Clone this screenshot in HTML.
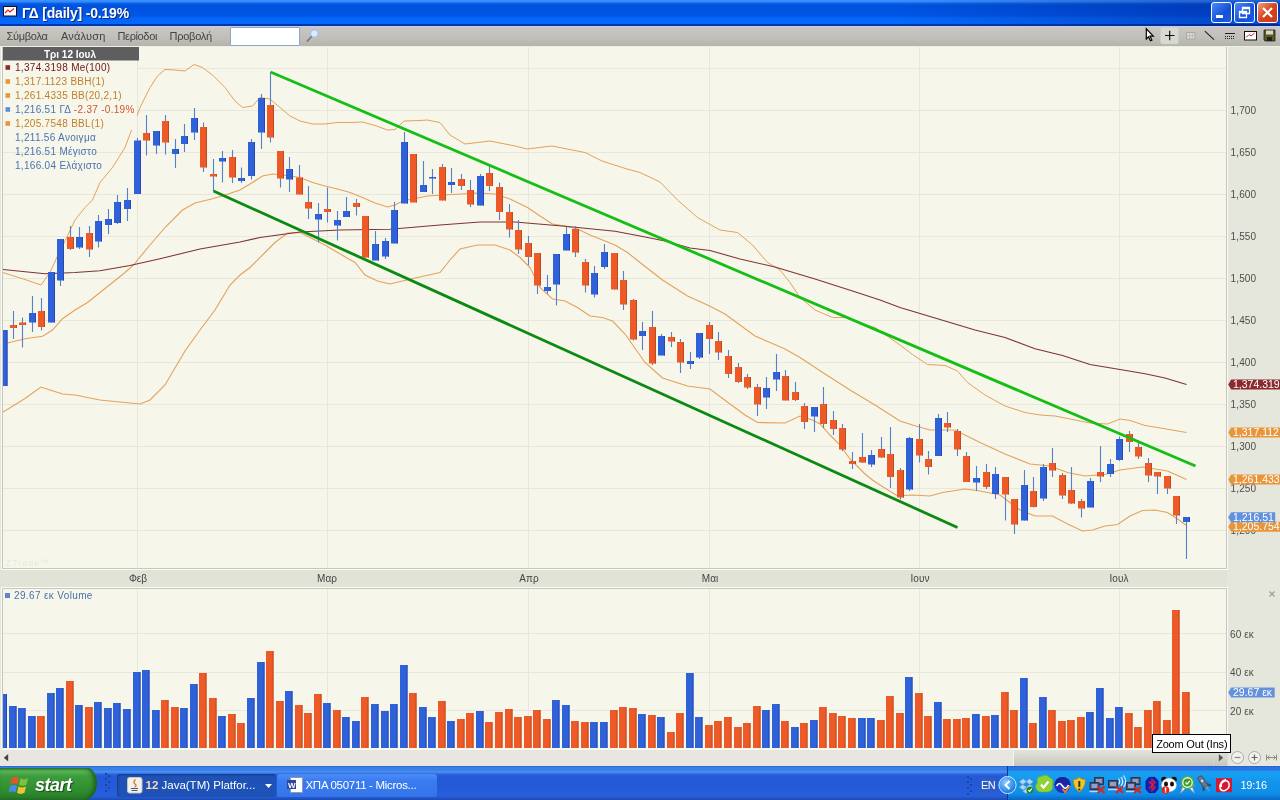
<!DOCTYPE html>
<html><head><meta charset="utf-8"><title>ΓΔ [daily] -0.19%</title>
<style>
html,body{margin:0;padding:0;width:1280px;height:800px;overflow:hidden;background:#e8e8de;font-family:"Liberation Sans",sans-serif}
#title{position:absolute;left:0;top:0;width:1280px;height:27px;background:linear-gradient(#3d95ff 0,#2f86f8 2px,#0a5fe8 3.500px,#0354df 5px,#0050da 7px,#0054e2 10px,#0056e6 16px,#0466f8 18px,#0468fa 23.500px,#0038ac 24.500px,#0038a8 26px,#c4ccec 26px,#c4ccec 27px)}
#title .t{position:absolute;left:22px;top:5px;color:#fff;font-weight:bold;font-size:14px;letter-spacing:-.2px;text-shadow:1px 1px 0 #0a2a80;white-space:nowrap}
#menu{position:absolute;left:0;top:27px;width:1280px;height:20px;background:linear-gradient(#cbc7c3 0,#c2c0bb 9px,#b5b5ad 18.800px,#efefe3 18.800px,#efefe3 20px);font-size:11px;color:#444}
#menu span{position:absolute;top:2.500px;white-space:nowrap}
#search{position:absolute;left:230px;top:26.500px;width:70px;height:19px;background:#fff;border:1px solid #8aa6c8;box-sizing:border-box;border-radius:1px}
.wb{position:absolute;top:2px;width:21px;height:21px;border:1px solid #fff;border-radius:3px;box-sizing:border-box;background:linear-gradient(135deg,#4a8af8,#1450d8 60%,#1c5ce4)}
#taskbar{position:absolute;left:0;top:766px;width:1280px;height:34px;background:linear-gradient(#2458c8 0,#3a7fe8 1px,#3a80e8 4px,#4a92f2 6px,#2e68e0 8px,#2458d6 10px,#2459d8 20px,#2860dc 30px,#1d4ab4 34px)}
#start{position:absolute;left:0;top:2px;width:97px;height:32px;border-radius:0 10px 13px 0/0 15px 17px 0;background:linear-gradient(#2f8a2f 0,#5cb85a 3px,#3d9c3c 8px,#2f8f2f 22px,#277a28 32px);box-shadow:inset -3px 0 4px #1e5e1e}
#start b{position:absolute;left:35px;top:6.5px;color:#fff;font-style:italic;font-size:18px;letter-spacing:-.5px;text-shadow:1px 1px 1px #1a4a1a}
.tb{position:absolute;top:8px;height:23px;border-radius:3px;color:#fff;font-size:11.5px;white-space:nowrap;box-sizing:border-box}
.tb span{position:absolute;top:4.500px}
#tray{position:absolute;left:1007px;top:0;width:273px;height:34px;background:linear-gradient(#2458c8 0,#2a72e0 1px,#2a74e2 4px,#1a9af0 5px,#18a0f2 8px,#1394ec 16px,#0f8ee8 28px,#0c66c4 34px);border-left:1px solid #0a3a90;box-sizing:border-box}
#root{position:absolute;left:0;top:0;width:1280px;height:800px;will-change:transform;transform:translateZ(0)}
</style></head><body><div id="root">
<div id="title">
<svg style="position:absolute;left:3px;top:6px" width="14" height="11" viewBox="0 0 14 11"><rect x=".5" y=".5" width="13" height="9.5" fill="#fff" stroke="#111"/><path d="M2 7l3-3 2 2 4-3.5" stroke="#d22" stroke-width="1.2" fill="none"/></svg>
<div style="position:absolute;left:900px;top:0;width:380px;height:26px;background:linear-gradient(90deg,rgba(0,20,120,0) 0,rgba(0,20,120,.32) 75%,rgba(0,20,120,.38) 100%)"></div>
<span class="t">ΓΔ [daily] -0.19%</span>
<div class="wb" style="left:1211px"><svg width="19" height="19"><rect x="4" y="12" width="7" height="3" fill="#fff"/></svg></div>
<div class="wb" style="left:1234px"><svg width="19" height="19"><path d="M7.5 4.500h7v6h-7zM7.5 5.500h7M4.500 8.500h7v6h-7zM4.500 9.500h7" fill="none" stroke="#fff" stroke-width="1.3"/></svg></div>
<div class="wb" style="left:1257px;background:linear-gradient(135deg,#f0a080,#d8431c 50%,#c83a18)"><svg width="19" height="19"><path d="M5 5l9 9M14 5l-9 9" stroke="#fff" stroke-width="2.2"/></svg></div>
</div>
<div id="menu">
<span style="left:6.500px;letter-spacing:-.28px">Σύμβολα</span><span style="left:61px;letter-spacing:.2px">Ανάλυση</span><span style="left:117.500px;letter-spacing:-.36px">Περίοδοι</span><span style="left:169.500px;letter-spacing:-.24px">Προβολή</span>
</div>
<div id="search"></div>
<svg style="position:absolute;left:303px;top:27px" width="20" height="18"><circle cx="11.300" cy="6.500" r="3.800" fill="#dcebfa" stroke="#a8c2e6" stroke-width="1.400"/><path d="M8.300 9.800l-4 4.400" stroke="#777" stroke-width="1.600" stroke-linecap="round"/></svg>
<svg style="position:absolute;left:1140px;top:26px" width="140" height="21">
<rect x="20.500" y="1.500" width="18" height="16.500" rx="2" fill="#d9d9d3" stroke="#cdcdc6" stroke-width=".6"/>
<path d="M6.300 2.800v10.200l2.300-2.200 1.800 4 1.500-.7-1.800-3.900h3.200z" fill="#fff" stroke="#000" stroke-width="1.200"/>
<path d="M25 9.500h9.500M29.700 4.800v9.500" stroke="#111" stroke-width="1.200"/>
<rect x="46.500" y="6.500" width="8.500" height="6.500" fill="#dcdcda" stroke="#a8a8a4"/><path d="M49.500 7v6M52.300 7v6M47 9.800h8" stroke="#b4b4b0" stroke-width=".8"/>
<path d="M64.800 5.200l9.200 8.500" stroke="#222" stroke-width="1.100"/>
<path d="M85 10.500h10M85 12.500h10" stroke="#222" stroke-width="1" stroke-dasharray="1 1"/><path d="M85 7.500h10" stroke="#222" stroke-width="1"/>
<rect x="104.500" y="5.500" width="12" height="8.500" fill="#fff" stroke="#111"/><path d="M106 11.500l3-3 2 1.500 3.500-3" stroke="#c22" fill="none"/>
<path d="M124 4h11v11h-10l-1-1z" fill="#5c5a1e" stroke="#222" stroke-width=".8"/><rect x="126" y="4.500" width="7" height="4" fill="#d8d8c8"/><rect x="127" y="11" width="5" height="4" fill="#222"/>
</svg>
<svg id="chart" width="1280" height="719" viewBox="0 47 1280 719" style="position:absolute;left:0;top:47px" font-family="Liberation Sans, sans-serif" font-size="10">
<rect x="0" y="47" width="1280" height="719" fill="#e6e7dc"/>
<rect x="0" y="569" width="1227" height="19" fill="#e2e3d7"/>
<rect x="2" y="47" width="1224" height="521" fill="#f6f6eb"/>
<rect x="2" y="588" width="1224" height="161" fill="#f6f6eb"/>
<path d="M1.5 47V569.5H1227.500V47M1.500 749V587.500H1227.500V749" fill="none" stroke="#fbfbf6" stroke-width="1"/>
<path d="M2.5 47V568.5H1226.5V47" fill="none" stroke="#c6c6bc" stroke-width="1"/>
<path d="M2.5 748.5V588.5H1226.5V748.5" fill="none" stroke="#c6c6bc" stroke-width="1"/>
<path d="M3 68.5H1226 M3 110.5H1226 M3 152.5H1226 M3 194.5H1226 M3 236.5H1226 M3 278.5H1226 M3 320.5H1226 M3 362.5H1226 M3 404.5H1226 M3 446.5H1226 M3 488.5H1226 M3 530.5H1226 M137.5 47V568 M137.5 589V748 M327.5 47V568 M327.5 589V748 M528.5 47V568 M528.5 589V748 M709.5 47V568 M709.5 589V748 M919.5 47V568 M919.5 589V748 M1119.5 47V568 M1119.5 589V748 M3 633.5H1226 M3 672.5H1226 M3 710.5H1226" stroke="#e7e7db" stroke-width="1" fill="none"/>
<clipPath id="cp"><rect x="3" y="47" width="1223" height="521"/></clipPath><clipPath id="cv"><rect x="3" y="589" width="1224" height="159"/></clipPath>
<g clip-path="url(#cp)">
<polyline points="2.5,272.5 25,279.5 41,285 50,272.5 57.5,256 65.5,240 75,220 85,207.5 92.5,200 100,182.5 112.5,167.5 125,147.5 132.5,127.5 140,107.5 150,87.5 157.5,76 165,69.5 175,70 185,71 194,64.5 202.5,67.5 212.5,75 225,87.5 235,101 242.5,107.5 252.5,106 260,97.5 270,99 280,107.5 290,116 300,121 312.5,124 325,124 337.5,122.5 350,122.5 362.5,122 375,125.5 387.5,130 395,129.5 404,121 420,120.5 427,120 440,122.5 450,135 465,144 490,141 515,146 527,149 552,146 585,152.5 602,161 627,169 640,172.5 660,182 677.5,200 697.5,217.5 720,230 737.5,232.5 752.5,245 767.5,262.5 780,270 790,282.5 800,297.5 815,310 832.5,317.5 845,317.5 865,325 875,327.5 900,345 912.5,354.5 927.5,364.5 945,365.5 957.5,371 967.5,382.5 985,395 1005,406 1025,412.5 1040,415 1055,416 1075,420 1090,423 1107.5,424 1120,419 1130,420.5 1145,425.5 1165,428.75 1186.5,432.5" fill="none" stroke="#e4a25a" stroke-width="1"/>
<polyline points="2.5,344 7.5,343 25,338.75 42.5,336.25 52.5,330 62.5,318.75 75,310 87.5,302.5 100,292.5 112.5,282.5 125,272.5 135,263.75 137.5,260 150,245 165,227.5 182.5,210 195,203 212.5,198.75 225,195 240,190 252.5,182.5 262.5,176 272.5,174 282.5,175 300,177.5 312.5,182.5 325,186 337.5,189 350,192.5 362.5,197.5 375,203 387.5,207 395,205 402.5,201 427.5,196 452.5,194.5 477.5,193 495,194 510,199 527.5,207.5 540,216 552.5,224 565,226 577.5,229 590,235 615,245 627.5,252.5 640,262.5 662.5,280 687.5,296 707.5,305 725,314 740,325 755,336 770,342.5 785,349 800,357.5 825,374 850,390 875,405 900,421 912.5,425 930,430 955,430 980,442.5 1005,454 1030,464 1050,466 1067.5,472.5 1085,476 1105,474.5 1120,470 1142.5,467 1155,469 1167.5,471 1186.5,479.5" fill="none" stroke="#e4a25a" stroke-width="1.1"/>
<polyline points="2.5,412.5 25,398.5 41,387 50,390 62.5,394 75,395 100,400 125,402.5 140,404 150,400 165,385 185,351 200,330 215,310 230,285 240,275 250,267.5 265,252.5 275,242.5 287.5,233 300,232.5 325,245 337.5,252.5 355,262.5 365,275 377.5,281 390,284 402.5,281 415,278 440,272.5 450,260 460,249 477.5,245 495,245 510,250 520,257.5 530,267.5 540,287.5 552.5,299 565,301 577.5,307.5 590,316 602.5,317.5 612.5,321 625,334 645,362.5 662.5,378 687.5,386 710,389 730,404 745,415 757.5,422.5 785,423 800,416 812.5,420 820,424 830,435 840,445 850,459 865,474 872.5,480 880,485 897.5,496 912.5,495 930,496 942.5,492.5 965,489 980,491 1000,495 1010,502.5 1020,510 1035,516 1052.5,516 1067.5,524 1082.5,531 1092.5,530 1105,526 1117.5,524.5 1130,516 1142.5,510.5 1155,510 1167.5,512.5 1177.5,519 1186.5,525.5" fill="none" stroke="#e4a25a" stroke-width="1.1"/>
<polyline points="2.5,269.5 45,273.75 75,272.5 100,270.75 130,265.5 160,258.75 200,249 240,242 260,237.5 300,232 340,230 390,229.25 440,225 480,222 515,222 565,226.25 615,231.25 640,236 665,241 690,248 710,250.5 740,259 775,267 815,279 852.5,291 880,300 900,307.5 925,315 950,322.5 975,330 1005,337.5 1035,348.75 1062.5,355.5 1090,364.5 1120,369.5 1145,373.75 1165,378 1186.5,384.5" fill="none" stroke="#7c3434" stroke-width="1.05"/>
<path d="M4 330V386 M13.5 311V339 M22.5 317.5V347.5 M32.5 296V332 M41.5 298V330.5 M51.5 272V322.5 M60.5 239V286 M70.5 226V250 M79.5 227V249 M89.5 226V257 M98.5 215V247.5 M108.5 209V234 M117.5 195V224 M127.5 188V221 M137.5 138V194 M146.5 115V155.5 M156.5 131V154 M165.5 115V154.5 M175.5 139V168 M184.5 124V152 M194.5 108V140 M203.5 122.5V172 M213.5 159V191 M222.5 151V182.5 M232.5 150V183 M241.5 167.5V183 M251.5 139V179.5 M261.5 94V149 M270.5 72V142.5 M280.5 151V187.5 M289.5 157V192 M299.5 165V194.5 M308.5 186V219 M318.5 203V242.5 M327.5 187.5V222.5 M337.5 211V240.5 M346.5 197V217 M356.5 199V215.5 M365.5 216V257.5 M375.5 231V260.5 M385.5 238V259 M394.5 202V243.5 M404.5 132V203.5 M413.5 154V202.5 M423.5 161V192 M432.5 169V194 M442.5 164V200.5 M451.5 168V193 M461.5 174V190 M470.5 180V207 M480.5 174V205.5 M489.5 166V191 M499.5 182.5V220 M509.5 204V237.5 M518.5 220V254 M528.5 236V265 M537.5 253V294 M547.5 275V294 M556.5 254V305.5 M566.5 227V250.5 M575.5 226V257 M585.5 259V292.5 M594.5 266V297.5 M604.5 244V269 M614.5 253V289.5 M623.5 271V310 M633.5 299V340.5 M642.5 322V350 M652.5 311V365 M661.5 334V355.5 M671.5 332V347 M680.5 339V373 M690.5 352V369 M699.5 333V359 M709.5 322V354 M718.5 332V360 M728.5 350V378 M738.5 363V383 M747.5 374V389 M757.5 384V416 M766.5 377V409 M776.5 354V391 M785.5 370V400.5 M795.5 382V401 M804.5 403V429 M814.5 407V432 M823.5 387V428 M833.5 411V435 M842.5 424V451 M852.5 452V469 M862.5 433V463 M871.5 450V467 M881.5 437V458 M890.5 427V488 M900.5 468V499.5 M909.5 437V491 M919.5 424V462.5 M928.5 451V474.5 M938.5 414V456 M947.5 412V432 M957.5 429V456 M966.5 452V482 M976.5 466V491 M986.5 464V489 M995.5 467V499 M1005.5 477V520.5 M1014.5 499V534 M1024.5 470V520.5 M1033.5 477V507.5 M1043.5 464V501 M1052.5 448V477 M1062.5 473V499 M1071.5 467V504 M1081.5 499V517.5 M1090.5 478V507.5 M1100.5 446V482 M1110.5 459V477 M1119.5 436.5V461 M1129.5 431V452 M1138.5 442V459 M1148.5 458V482 M1157.5 472V494 M1167.5 476V494 M1176.5 496V524 M1186.5 517V559" stroke="#5580ca" stroke-width="1.1" fill="none"/>
<path d="M0.5 330h7v56h-7z M29 313h7v9.5h-7z M48 272h7v50.5h-7z M57 239h7v41.5h-7z M76 237h7v10.5h-7z M95 221h7v20.5h-7z M105 219h7v6h-7z M114 202h7v21h-7z M124 200h7v9h-7z M134 140.5h7v53.5h-7z M153 131h7v14.5h-7z M172 149h7v5h-7z M181 136h7v8h-7z M191 118h7v14.5h-7z M219 158h7v3.5h-7z M238 178h7v3h-7z M248 142h7v34h-7z M258 98h7v34.5h-7z M286 169h7v10.5h-7z M315 214h7v5.5h-7z M334 220h7v5.5h-7z M343 211h7v6h-7z M372 244h7v16.5h-7z M382 241h7v15.5h-7z M391 210h7v33.5h-7z M401 142h7v61.5h-7z M420 185h7v7h-7z M429 177h7v1.5h-7z M448 182h7v3h-7z M477 176h7v29.5h-7z M544 287h7v4h-7z M553 254h7v30.5h-7z M563 234h7v16.5h-7z M591 273h7v21.5h-7z M601 252h7v15h-7z M639 331h7v5h-7z M658 336h7v19.5h-7z M687 361h7v3h-7z M696 333h7v24.5h-7z M763 388h7v9.5h-7z M773 372h7v7.5h-7z M811 407h7v9.5h-7z M868 455h7v9.5h-7z M906 438h7v51.5h-7z M935 418h7v38h-7z M973 478h7v4.5h-7z M992 474h7v20h-7z M1021 485h7v35.5h-7z M1040 467h7v31.5h-7z M1087 481h7v26.5h-7z M1107 464h7v10h-7z M1116 439h7v21h-7z M1183 517h7v5h-7z" fill="#2f62d8"/>
<path d="M6.5 330h1v56h-1z M35 313h1v9.5h-1z M54 272h1v50.5h-1z M63 239h1v41.5h-1z M82 237h1v10.5h-1z M101 221h1v20.5h-1z M111 219h1v6h-1z M120 202h1v21h-1z M130 200h1v9h-1z M140 140.5h1v53.5h-1z M159 131h1v14.5h-1z M178 149h1v5h-1z M187 136h1v8h-1z M197 118h1v14.5h-1z M225 158h1v3.5h-1z M244 178h1v3h-1z M254 142h1v34h-1z M264 98h1v34.5h-1z M292 169h1v10.5h-1z M321 214h1v5.5h-1z M340 220h1v5.5h-1z M349 211h1v6h-1z M378 244h1v16.5h-1z M388 241h1v15.5h-1z M397 210h1v33.5h-1z M407 142h1v61.5h-1z M426 185h1v7h-1z M435 177h1v1.5h-1z M454 182h1v3h-1z M483 176h1v29.5h-1z M550 287h1v4h-1z M559 254h1v30.5h-1z M569 234h1v16.5h-1z M597 273h1v21.5h-1z M607 252h1v15h-1z M645 331h1v5h-1z M664 336h1v19.5h-1z M693 361h1v3h-1z M702 333h1v24.5h-1z M769 388h1v9.5h-1z M779 372h1v7.5h-1z M817 407h1v9.5h-1z M874 455h1v9.5h-1z M912 438h1v51.5h-1z M941 418h1v38h-1z M979 478h1v4.5h-1z M998 474h1v20h-1z M1027 485h1v35.5h-1z M1046 467h1v31.5h-1z M1093 481h1v26.5h-1z M1113 464h1v10h-1z M1122 439h1v21h-1z M1189 517h1v5h-1z" fill="#2549b4"/>
<path d="M10 325h7v3h-7z M19 322.5h7v2.5h-7z M38 311h7v16h-7z M67 237h7v12h-7z M86 233h7v16.5h-7z M143 133h7v7.5h-7z M162 121h7v21.5h-7z M200 127h7v40.5h-7z M210 174h7v2.5h-7z M229 157h7v20.5h-7z M267 105h7v32.5h-7z M277 151h7v27.5h-7z M296 177.5h7v17h-7z M305 202h7v6.5h-7z M324 209h7v3h-7z M353 203h7v4h-7z M362 216h7v41.5h-7z M410 154h7v48.5h-7z M439 167h7v33.5h-7z M458 179h7v7h-7z M467 190h7v14.5h-7z M486 173h7v13h-7z M496 187h7v25h-7z M506 212h7v17.5h-7z M515 230h7v19.5h-7z M525 243h7v14h-7z M534 253h7v32.5h-7z M572 229h7v23.5h-7z M582 262h7v23.5h-7z M611 253h7v36.5h-7z M620 280h7v24.5h-7z M630 300h7v39.5h-7z M649 327h7v36.5h-7z M668 337h7v4.5h-7z M677 342h7v20.5h-7z M706 325h7v14h-7z M715 341h7v11.5h-7z M725 356h7v18h-7z M735 367h7v15h-7z M744 377h7v10.5h-7z M754 387h7v17.5h-7z M782 376h7v24.5h-7z M792 392h7v8h-7z M801 406h7v16h-7z M820 404h7v20h-7z M830 420h7v9h-7z M839 428h7v21.5h-7z M849 461h7v3h-7z M859 457h7v5.5h-7z M878 449h7v8.5h-7z M887 454h7v23h-7z M897 470h7v27.5h-7z M916 439h7v16.5h-7z M925 459h7v8h-7z M944 423h7v4.5h-7z M954 431h7v18.5h-7z M963 456h7v26h-7z M983 472h7v15h-7z M1002 477h7v17.5h-7z M1011 499h7v25.5h-7z M1030 491h7v16h-7z M1049 463h7v7.5h-7z M1059 475h7v20.5h-7z M1068 490h7v13.5h-7z M1078 501h7v7.5h-7z M1097 472h7v4.5h-7z M1126 434h7v8h-7z M1135 447h7v9.5h-7z M1145 463h7v12.5h-7z M1154 472h7v4.5h-7z M1164 476h7v12.5h-7z M1173 496h7v19.5h-7z" fill="#ee5a27"/>
<path d="M16 325h1v3h-1z M25 322.5h1v2.5h-1z M44 311h1v16h-1z M73 237h1v12h-1z M92 233h1v16.5h-1z M149 133h1v7.5h-1z M168 121h1v21.5h-1z M206 127h1v40.5h-1z M216 174h1v2.5h-1z M235 157h1v20.5h-1z M273 105h1v32.5h-1z M283 151h1v27.5h-1z M302 177.5h1v17h-1z M311 202h1v6.5h-1z M330 209h1v3h-1z M359 203h1v4h-1z M368 216h1v41.5h-1z M416 154h1v48.5h-1z M445 167h1v33.5h-1z M464 179h1v7h-1z M473 190h1v14.5h-1z M492 173h1v13h-1z M502 187h1v25h-1z M512 212h1v17.5h-1z M521 230h1v19.5h-1z M531 243h1v14h-1z M540 253h1v32.5h-1z M578 229h1v23.5h-1z M588 262h1v23.5h-1z M617 253h1v36.5h-1z M626 280h1v24.5h-1z M636 300h1v39.5h-1z M655 327h1v36.5h-1z M674 337h1v4.5h-1z M683 342h1v20.5h-1z M712 325h1v14h-1z M721 341h1v11.5h-1z M731 356h1v18h-1z M741 367h1v15h-1z M750 377h1v10.5h-1z M760 387h1v17.5h-1z M788 376h1v24.5h-1z M798 392h1v8h-1z M807 406h1v16h-1z M826 404h1v20h-1z M836 420h1v9h-1z M845 428h1v21.5h-1z M855 461h1v3h-1z M865 457h1v5.5h-1z M884 449h1v8.5h-1z M893 454h1v23h-1z M903 470h1v27.5h-1z M922 439h1v16.5h-1z M931 459h1v8h-1z M950 423h1v4.5h-1z M960 431h1v18.5h-1z M969 456h1v26h-1z M989 472h1v15h-1z M1008 477h1v17.5h-1z M1017 499h1v25.5h-1z M1036 491h1v16h-1z M1055 463h1v7.5h-1z M1065 475h1v20.5h-1z M1074 490h1v13.5h-1z M1084 501h1v7.5h-1z M1103 472h1v4.5h-1z M1132 434h1v8h-1z M1141 447h1v9.5h-1z M1151 463h1v12.5h-1z M1160 472h1v4.5h-1z M1170 476h1v12.5h-1z M1179 496h1v19.5h-1z" fill="#bd4a20"/>
<line x1="213.5" y1="191" x2="957.5" y2="527.5" stroke="#0b8a12" stroke-width="2.8"/>
<line x1="270.5" y1="72" x2="1195.5" y2="466" stroke="#14be14" stroke-width="2.8"/>
</g>
<g clip-path="url(#cv)">
<path d="M-0.5 694h7.5V748h-7.5z M9 706h7.5V748h-7.5z M18 708h7.5V748h-7.5z M28 716h7.5V748h-7.5z M47 693h7.5V748h-7.5z M56 688h7.5V748h-7.5z M75 705h7.5V748h-7.5z M94 702h7.5V748h-7.5z M104 708h7.5V748h-7.5z M113 703h7.5V748h-7.5z M123 709h7.5V748h-7.5z M133 672h7.5V748h-7.5z M142 670h7.5V748h-7.5z M152 710h7.5V748h-7.5z M180 708h7.5V748h-7.5z M190 684h7.5V748h-7.5z M218 716h7.5V748h-7.5z M247 698h7.5V748h-7.5z M257 662h7.5V748h-7.5z M285 691h7.5V748h-7.5z M323 703h7.5V748h-7.5z M342 717h7.5V748h-7.5z M352 721h7.5V748h-7.5z M371 704h7.5V748h-7.5z M381 711h7.5V748h-7.5z M390 704h7.5V748h-7.5z M400 665h7.5V748h-7.5z M419 707h7.5V748h-7.5z M428 717h7.5V748h-7.5z M447 721h7.5V748h-7.5z M476 711h7.5V748h-7.5z M552 700h7.5V748h-7.5z M562 705h7.5V748h-7.5z M590 722h7.5V748h-7.5z M600 722h7.5V748h-7.5z M638 714h7.5V748h-7.5z M657 717h7.5V748h-7.5z M686 673h7.5V748h-7.5z M695 717h7.5V748h-7.5z M762 710h7.5V748h-7.5z M772 704h7.5V748h-7.5z M791 727h7.5V748h-7.5z M810 720h7.5V748h-7.5z M858 718h7.5V748h-7.5z M867 718h7.5V748h-7.5z M905 677h7.5V748h-7.5z M934 702h7.5V748h-7.5z M972 714h7.5V748h-7.5z M991 715h7.5V748h-7.5z M1020 678h7.5V748h-7.5z M1039 697h7.5V748h-7.5z M1086 712h7.5V748h-7.5z M1096 688h7.5V748h-7.5z M1106 718h7.5V748h-7.5z M1115 707h7.5V748h-7.5z" fill="#2f62d8"/>
<path d="M6 694h1V748h-1z M15.5 706h1V748h-1z M24.5 708h1V748h-1z M34.5 716h1V748h-1z M53.5 693h1V748h-1z M62.5 688h1V748h-1z M81.5 705h1V748h-1z M100.5 702h1V748h-1z M110.5 708h1V748h-1z M119.5 703h1V748h-1z M129.5 709h1V748h-1z M139.5 672h1V748h-1z M148.5 670h1V748h-1z M158.5 710h1V748h-1z M186.5 708h1V748h-1z M196.5 684h1V748h-1z M224.5 716h1V748h-1z M253.5 698h1V748h-1z M263.5 662h1V748h-1z M291.5 691h1V748h-1z M329.5 703h1V748h-1z M348.5 717h1V748h-1z M358.5 721h1V748h-1z M377.5 704h1V748h-1z M387.5 711h1V748h-1z M396.5 704h1V748h-1z M406.5 665h1V748h-1z M425.5 707h1V748h-1z M434.5 717h1V748h-1z M453.5 721h1V748h-1z M482.5 711h1V748h-1z M558.5 700h1V748h-1z M568.5 705h1V748h-1z M596.5 722h1V748h-1z M606.5 722h1V748h-1z M644.5 714h1V748h-1z M663.5 717h1V748h-1z M692.5 673h1V748h-1z M701.5 717h1V748h-1z M768.5 710h1V748h-1z M778.5 704h1V748h-1z M797.5 727h1V748h-1z M816.5 720h1V748h-1z M864.5 718h1V748h-1z M873.5 718h1V748h-1z M911.5 677h1V748h-1z M940.5 702h1V748h-1z M978.5 714h1V748h-1z M997.5 715h1V748h-1z M1026.5 678h1V748h-1z M1045.5 697h1V748h-1z M1092.5 712h1V748h-1z M1102.5 688h1V748h-1z M1112.5 718h1V748h-1z M1121.5 707h1V748h-1z" fill="#2549b4"/>
<path d="M37 716h7.5V748h-7.5z M66 681h7.5V748h-7.5z M85 707h7.5V748h-7.5z M161 700h7.5V748h-7.5z M171 707h7.5V748h-7.5z M199 673h7.5V748h-7.5z M209 698h7.5V748h-7.5z M228 714h7.5V748h-7.5z M237 723h7.5V748h-7.5z M266 651h7.5V748h-7.5z M276 701h7.5V748h-7.5z M295 705h7.5V748h-7.5z M304 713h7.5V748h-7.5z M314 694h7.5V748h-7.5z M333 710h7.5V748h-7.5z M361 697h7.5V748h-7.5z M409 693h7.5V748h-7.5z M438 701h7.5V748h-7.5z M457 719h7.5V748h-7.5z M466 713h7.5V748h-7.5z M485 722h7.5V748h-7.5z M495 712h7.5V748h-7.5z M505 709h7.5V748h-7.5z M514 717h7.5V748h-7.5z M524 716h7.5V748h-7.5z M533 710h7.5V748h-7.5z M543 719h7.5V748h-7.5z M571 721h7.5V748h-7.5z M581 722h7.5V748h-7.5z M610 710h7.5V748h-7.5z M619 707h7.5V748h-7.5z M629 708h7.5V748h-7.5z M648 715h7.5V748h-7.5z M667 732h7.5V748h-7.5z M676 713h7.5V748h-7.5z M705 725h7.5V748h-7.5z M714 721h7.5V748h-7.5z M724 717h7.5V748h-7.5z M734 727h7.5V748h-7.5z M743 723h7.5V748h-7.5z M753 706h7.5V748h-7.5z M781 721h7.5V748h-7.5z M800 723h7.5V748h-7.5z M819 707h7.5V748h-7.5z M829 713h7.5V748h-7.5z M838 716h7.5V748h-7.5z M848 718h7.5V748h-7.5z M877 720h7.5V748h-7.5z M886 696h7.5V748h-7.5z M896 713h7.5V748h-7.5z M915 693h7.5V748h-7.5z M924 716h7.5V748h-7.5z M943 719h7.5V748h-7.5z M953 719h7.5V748h-7.5z M962 718h7.5V748h-7.5z M982 716h7.5V748h-7.5z M1001 692h7.5V748h-7.5z M1010 710h7.5V748h-7.5z M1029 723h7.5V748h-7.5z M1048 710h7.5V748h-7.5z M1058 721h7.5V748h-7.5z M1067 720h7.5V748h-7.5z M1077 717h7.5V748h-7.5z M1125 713h7.5V748h-7.5z M1134 727h7.5V748h-7.5z M1144 710h7.5V748h-7.5z M1153 701h7.5V748h-7.5z M1163 720h7.5V748h-7.5z M1172 610h7.5V748h-7.5z M1182 692h7.5V748h-7.5z" fill="#ee5a27"/>
<path d="M43.5 716h1V748h-1z M72.5 681h1V748h-1z M91.5 707h1V748h-1z M167.5 700h1V748h-1z M177.5 707h1V748h-1z M205.5 673h1V748h-1z M215.5 698h1V748h-1z M234.5 714h1V748h-1z M243.5 723h1V748h-1z M272.5 651h1V748h-1z M282.5 701h1V748h-1z M301.5 705h1V748h-1z M310.5 713h1V748h-1z M320.5 694h1V748h-1z M339.5 710h1V748h-1z M367.5 697h1V748h-1z M415.5 693h1V748h-1z M444.5 701h1V748h-1z M463.5 719h1V748h-1z M472.5 713h1V748h-1z M491.5 722h1V748h-1z M501.5 712h1V748h-1z M511.5 709h1V748h-1z M520.5 717h1V748h-1z M530.5 716h1V748h-1z M539.5 710h1V748h-1z M549.5 719h1V748h-1z M577.5 721h1V748h-1z M587.5 722h1V748h-1z M616.5 710h1V748h-1z M625.5 707h1V748h-1z M635.5 708h1V748h-1z M654.5 715h1V748h-1z M673.5 732h1V748h-1z M682.5 713h1V748h-1z M711.5 725h1V748h-1z M720.5 721h1V748h-1z M730.5 717h1V748h-1z M740.5 727h1V748h-1z M749.5 723h1V748h-1z M759.5 706h1V748h-1z M787.5 721h1V748h-1z M806.5 723h1V748h-1z M825.5 707h1V748h-1z M835.5 713h1V748h-1z M844.5 716h1V748h-1z M854.5 718h1V748h-1z M883.5 720h1V748h-1z M892.5 696h1V748h-1z M902.5 713h1V748h-1z M921.5 693h1V748h-1z M930.5 716h1V748h-1z M949.5 719h1V748h-1z M959.5 719h1V748h-1z M968.5 718h1V748h-1z M988.5 716h1V748h-1z M1007.5 692h1V748h-1z M1016.5 710h1V748h-1z M1035.5 723h1V748h-1z M1054.5 710h1V748h-1z M1064.5 721h1V748h-1z M1073.5 720h1V748h-1z M1083.5 717h1V748h-1z M1131.5 713h1V748h-1z M1140.5 727h1V748h-1z M1150.5 710h1V748h-1z M1159.5 701h1V748h-1z M1169.5 720h1V748h-1z M1178.5 610h1V748h-1z M1188.5 692h1V748h-1z" fill="#bd4a20"/>
</g>
<text x="5.5" y="566" font-size="9" fill="#e7e7db" letter-spacing="1">ZTrade™</text>
<text x="138" y="582" text-anchor="middle" fill="#444" font-size="10">Φεβ</text>
<text x="327" y="582" text-anchor="middle" fill="#444" font-size="10">Μαρ</text>
<text x="529" y="582" text-anchor="middle" fill="#444" font-size="10">Απρ</text>
<text x="710" y="582" text-anchor="middle" fill="#444" font-size="10">Μαι</text>
<text x="920" y="582" text-anchor="middle" fill="#444" font-size="10">Ιουν</text>
<text x="1119" y="582" text-anchor="middle" fill="#444" font-size="10">Ιουλ</text>
<text x="1230.6" y="113.8" fill="#4c4c4c" font-size="10" letter-spacing=".1">1,700</text>
<text x="1230.6" y="155.8" fill="#4c4c4c" font-size="10" letter-spacing=".1">1,650</text>
<text x="1230.6" y="197.8" fill="#4c4c4c" font-size="10" letter-spacing=".1">1,600</text>
<text x="1230.6" y="239.8" fill="#4c4c4c" font-size="10" letter-spacing=".1">1,550</text>
<text x="1230.6" y="281.8" fill="#4c4c4c" font-size="10" letter-spacing=".1">1,500</text>
<text x="1230.6" y="323.8" fill="#4c4c4c" font-size="10" letter-spacing=".1">1,450</text>
<text x="1230.6" y="365.8" fill="#4c4c4c" font-size="10" letter-spacing=".1">1,400</text>
<text x="1230.6" y="407.8" fill="#4c4c4c" font-size="10" letter-spacing=".1">1,350</text>
<text x="1230.6" y="449.8" fill="#4c4c4c" font-size="10" letter-spacing=".1">1,300</text>
<text x="1230.6" y="491.8" fill="#4c4c4c" font-size="10" letter-spacing=".1">1,250</text>
<text x="1230.6" y="533.8" fill="#4c4c4c" font-size="10" letter-spacing=".1">1,200</text>
<text x="1230" y="637.8" fill="#4c4c4c" font-size="10" letter-spacing=".1">60 εκ</text>
<text x="1230" y="675.8" fill="#4c4c4c" font-size="10" letter-spacing=".1">40 εκ</text>
<text x="1230" y="714.8" fill="#4c4c4c" font-size="10" letter-spacing=".1">20 εκ</text>
<path d="M1228.2 384.5l3 -5h52v10h-52z" fill="#8a2a2e"/>
<text x="1233" y="388.1" fill="#fff" font-size="10.5">1,374.319</text>
<path d="M1228.2 432.5l3 -5h52v10h-52z" fill="#e8963c"/>
<text x="1233" y="436.1" fill="#fff" font-size="10.5">1,317.112</text>
<path d="M1228.2 479.5l3 -5h52v10h-52z" fill="#e8963c"/>
<text x="1233" y="483.1" fill="#fff" font-size="10.5">1,261.433</text>
<path d="M1228.2 526.8l3 -5h52v10h-52z" fill="#e8963c"/>
<text x="1233" y="530.4" fill="#fff" font-size="10.5">1,205.754</text>
<path d="M1228.2 517.2l3 -5h44v10h-44z" fill="#6391de"/>
<text x="1233" y="520.8000000000001" fill="#fff" font-size="10.5">1,216.51</text>
<path d="M1228.2 692.5l3 -5h43.5v10h-43.5z" fill="#6391de"/>
<text x="1233" y="696.1" fill="#fff" font-size="10.5">29.67 εκ</text>
<rect x="5" y="593" width="5" height="5" fill="#5f86cc"/>
<text x="14" y="599" fill="#4a6fa8" font-size="10" letter-spacing="0.36">29.67 εκ Volume</text>
<path d="M1269.5 591.5l5 5m0-5l-5 5" stroke="#999" stroke-width="1.2"/>
<rect x="3" y="60" width="134" height="70" fill="#f6f6eb"/>
<rect x="3" y="47" width="136" height="13.5" fill="#5e5e5e"/>
<text x="70" y="57.5" text-anchor="middle" fill="#fff" font-weight="bold" font-size="10">Τρι 12 Ιουλ</text>
<rect x="5.5" y="65.2" width="4.6" height="4.6" fill="#8c2a2a"/>
<text x="15" y="71.2" fill="#6e1616" font-size="10" letter-spacing="0.3" xml:space="preserve">1,374.3198 Me(100)</text>
<rect x="5.5" y="79.2" width="4.6" height="4.6" fill="#e8963c"/>
<text x="15" y="85.2" fill="#c0802a" font-size="10" letter-spacing="0.3" xml:space="preserve">1,317.1123 BBH(1)</text>
<rect x="5.5" y="93.2" width="4.6" height="4.6" fill="#e8963c"/>
<text x="15" y="99.2" fill="#c0802a" font-size="10" letter-spacing="0.3" xml:space="preserve">1,261.4335 BB(20,2,1)</text>
<rect x="5.5" y="107.2" width="4.6" height="4.6" fill="#5a8fe0"/>
<text x="15" y="113.2" fill="#4a73b0" font-size="10" letter-spacing="0.3" xml:space="preserve">1,216.51 ΓΔ<tspan fill="#d4552d"> -2.37 -0.19%</tspan></text>
<rect x="5.5" y="121.2" width="4.6" height="4.6" fill="#e8963c"/>
<text x="15" y="127.2" fill="#c0802a" font-size="10" letter-spacing="0.3" xml:space="preserve">1,205.7548 BBL(1)</text>
<text x="15" y="141.2" fill="#4a73b0" font-size="10" letter-spacing="0.3" xml:space="preserve">1,211.56 Ανοιγμα</text>
<text x="15" y="155.2" fill="#4a73b0" font-size="10" letter-spacing="0.3" xml:space="preserve">1,216.51 Μέγιστο</text>
<text x="15" y="169.2" fill="#4a73b0" font-size="10" letter-spacing="0.3" xml:space="preserve">1,166.04 Ελάχιστο</text>
<linearGradient id="th" x1="0" y1="0" x2="0" y2="1"><stop offset="0" stop-color="#e4e4dd"/><stop offset="1" stop-color="#c6c6be"/></linearGradient>
<rect x="0" y="749" width="1228" height="17" fill="#e7e7df"/>
<path d="M0 749.5H1228" stroke="#fafaf5"/>
<rect x="1013.5" y="750" width="200" height="16" fill="url(#th)"/>
<rect x="1213.5" y="750" width="14" height="16" fill="url(#th)" stroke="#d8d8d0" stroke-width=".6"/>
<path d="M1013.5 750v16" stroke="#f4f4ee"/>
<path d="M3.800 757.800l4.400 -3.800v7.600z" fill="#444"/>
<path d="M1223.2 757.8l-4.4 -3.800v7.600z" fill="#555"/>
<circle cx="1237.5" cy="757.5" r="6" fill="#f2f2ec" stroke="#aaa"/><path d="M1234.5 757.5h6" stroke="#888" stroke-width="1.2"/>
<circle cx="1254.5" cy="757.5" r="6" fill="#f2f2ec" stroke="#aaa"/><path d="M1251.5 757.5h6M1254.5 754.5v6" stroke="#666" stroke-width="1.2"/>
<path d="M1266 757.5h11M1266.5 754.5v6M1276.5 754.5v6M1269.500 755.500l-2 2 2 2M1273.500 755.500l2 2-2 2" stroke="#8a8a86" stroke-width="1" fill="none"/>
<rect x="1152.5" y="734.5" width="78" height="18" fill="#fff" stroke="#000"/>
<text x="1156.2" y="747.7" fill="#000" font-size="11" letter-spacing="-0.2">Zoom Out (Ins)</text>
</svg>
<div id="taskbar">
<div id="start">
<svg style="position:absolute;left:9px;top:6px" width="23" height="23" viewBox="0 0 20 20"><path d="M2.500 3.500q3-2 6 0l-1.300 5.500q-3-2-6 0z" fill="#e8542a"/><path d="M10 3.800q3 2 6.500 0l-1.300 5.500q-3.500 2-6.500 0z" fill="#7cc242"/><path d="M1 10.500q3-2 6 0l-1.300 5.500q-3-2-6 0z" fill="#4a8af0"/><path d="M8.300 10.800q3 2 6.500 0l-1.300 5.500q-3.500 2-6.500 0z" fill="#f4c430"/></svg>
<b>start</b></div>
<svg style="position:absolute;left:104px;top:6px" width="8" height="24"><g fill="#1846a8"><rect x="1" y="1" width="2" height="2"/><rect x="4" y="3" width="2" height="2"/><rect x="1" y="6" width="2" height="2"/><rect x="4" y="9" width="2" height="2"/><rect x="1" y="12" width="2" height="2"/><rect x="4" y="15" width="2" height="2"/><rect x="1" y="18" width="2" height="2"/></g></svg>
<div class="tb" style="left:116.500px;width:159px;background:#1e52b6;box-shadow:inset 1px 1px 2px #123a8c">
<svg style="position:absolute;left:10.500px;top:3px" width="16" height="17"><rect x=".5" y=".5" width="14.500" height="15.500" rx="2" fill="#f4f1ea" stroke="#c8c4b8"/><path d="M8.500 2.500q-3 2.500-.5 4.500t-.5 3" stroke="#e07020" stroke-width="1.300" fill="none"/><path d="M4 11.500h7M4.500 13.500h6" stroke="#3a5a8a" stroke-width="1.100"/></svg>
<span style="left:29px"><b style="color:#ffd9b0">12</b> Java(TM) Platfor...</span>
<svg style="position:absolute;left:148px;top:10px" width="8" height="5"><path d="M0 0h7l-3.500 4z" fill="#fff"/></svg></div>
<div class="tb" style="left:277px;width:160px;background:linear-gradient(#4a8cf6,#3a7cf0 30%,#3474e8)">
<svg style="position:absolute;left:10px;top:3px" width="17" height="17"><rect x="3.500" y=".5" width="12" height="15" fill="#fff" stroke="#8a9ab8"/><rect x="0" y="3" width="9" height="9" fill="#2a4a9a"/><text x="1" y="10.500" font-size="8" font-weight="bold" fill="#fff" font-family="Liberation Sans, sans-serif">W</text></svg>
<span style="left:28.500px;letter-spacing:-.3px">ΧΠΑ 050711 - Micros...</span></div>
<svg style="position:absolute;left:966px;top:9px" width="8" height="22"><g fill="#1846a8"><rect x="1" y="1" width="2" height="2"/><rect x="4" y="3" width="2" height="2"/><rect x="1" y="6" width="2" height="2"/><rect x="4" y="9" width="2" height="2"/><rect x="1" y="12" width="2" height="2"/><rect x="4" y="15" width="2" height="2"/><rect x="1" y="18" width="2" height="2"/></g></svg>
<div style="position:absolute;left:980px;top:12px;width:16px;height:15px;background:#2c5cc4"></div>
<span style="position:absolute;left:981px;top:13px;color:#fff;font-size:11px;letter-spacing:-.6px">EN</span>
<div id="tray"><span style="position:absolute;left:232.500px;top:13px;color:#fff;font-size:11px;letter-spacing:-.25px">19:16</span></div>
<svg style="position:absolute;left:995px;top:0" width="245" height="34" font-family="Liberation Sans, sans-serif">
<radialGradient id="chv" cx=".4" cy=".35" r=".7"><stop offset="0" stop-color="#8cccff"/><stop offset=".6" stop-color="#3a98f0"/><stop offset="1" stop-color="#1668d8"/></radialGradient><circle cx="12.500" cy="19" r="8.600" fill="url(#chv)" stroke="#cfe6ff" stroke-width="1"/><path d="M14.500 15l-4 4 4 4" stroke="#fff" stroke-width="2" fill="none"/>
<g transform="translate(31 19)"><path d="M-6-3l3.500-2.500 3 2.500-3.500 2.500zM6.500-3l-3.500-2.500-3 2.500 3.500 2.500zM-6 2l3.500 2.500 3-2.500-3.500-2.500zM6.500 2l-3.500 2.500-3-2.500 3.500-2.500zM-3 5.500l3.500-2.500 3 2.500-3.500 2z" fill="#b4d6f6" stroke="#6a9ed4" stroke-width=".6" transform="scale(1.12)"/><circle cx="4" cy="5" r="3.500" fill="#1e8a30"/><path d="M2.300 5l1.300 1.400 2.300-2.800" stroke="#fff" stroke-width="1.100" fill="none"/></g>
<g transform="translate(49.500 18.500)"><path d="M-7-2a4 4 0 0 1 4-6a5.500 5.500 0 0 1 8 1a5 5 0 0 1 3 7a5.500 5.500 0 0 1-6 7.500h-5a5.500 5.500 0 0 1-4-9.500z" fill="#8fd234" stroke="#70b222" stroke-width=".6"/><path d="M-3.500 0l2.500 3 5-6" stroke="#fff" stroke-width="2.200" fill="none"/></g>
<g transform="translate(67.500 19)"><circle r="8" fill="#2030c0"/><path d="M-8 0a8 8 0 0 1 16 0z" fill="#1a24a0"/><path d="M-6 1q3-5 6 0t6-1" stroke="#fff" stroke-width="1.600" fill="none"/><path d="M0 4l2.500 3 5-6" stroke="#f08020" stroke-width="1.800" fill="none"/></g>
<g transform="translate(84.300 19)"><path d="M0-7.500q3 2.200 6 2.200q0 8-6 12.300q-6-4.300-6-12.300q3 0 6-2.200z" fill="#f2c81e" stroke="#b08a10" stroke-width=".8"/><rect x="-1" y="-4" width="2" height="6" fill="#333"/><rect x="-1" y="3.500" width="2" height="2" fill="#333"/></g>
<g transform="translate(102.500 19)"><rect x="-3" y="-7.500" width="9" height="7" fill="#4a5470" stroke="#2a3040" stroke-width=".9"/><rect x="-1.500" y="-6" width="6" height="4" fill="#8e9ed0"/><rect x="-7.500" y="-2.500" width="9" height="7" fill="#4a5470" stroke="#2a3040" stroke-width=".9"/><rect x="-6" y="-1" width="6" height="4" fill="#8e9ed0"/><path d="M-8 6.500h10" stroke="#c8d0e8" stroke-width="1.400"/><path d="M0 1.500l7 6.500M7 1.500l-7 6.500" stroke="#d8261c" stroke-width="2"/></g>
<g transform="translate(121 19)"><rect x="-7.500" y="-4.500" width="9" height="7" fill="#4a5470" stroke="#2a3040" stroke-width=".9"/><rect x="-6" y="-3" width="6" height="4" fill="#8e9ed0"/><path d="M-8 4.500h10" stroke="#c8d0e8" stroke-width="1.400"/><path d="M2.500-6.500q2.500 3 0 6M5-8q3.500 4.500 0 9M7.500-9.500q4.500 6 0 12" stroke="#e8eef8" stroke-width="1.100" fill="none"/><path d="M0 1.500l7 6.500M7 1.500l-7 6.500" stroke="#d8261c" stroke-width="2"/></g>
<g transform="translate(139 19)"><rect x="-3" y="-7.500" width="9" height="7" fill="#4a5470" stroke="#2a3040" stroke-width=".9"/><rect x="-1.500" y="-6" width="6" height="4" fill="#8e9ed0"/><rect x="-7.500" y="-2.500" width="9" height="7" fill="#4a5470" stroke="#2a3040" stroke-width=".9"/><rect x="-6" y="-1" width="6" height="4" fill="#8e9ed0"/><path d="M-8 6.500h10" stroke="#c8d0e8" stroke-width="1.400"/><path d="M0 1.500l7 6.500M7 1.500l-7 6.500" stroke="#d8261c" stroke-width="2"/></g>
<g transform="translate(157 19)"><path d="M-3-7.600h6l3 3.600v8l-3 3.600h-6l-3-3.600v-8z" fill="#1020c8" stroke="#08106c" stroke-width=".8"/><path d="M-3-3.500l6 6-3 3v-11l3 3-6 6" stroke="#e02020" stroke-width="1.300" fill="none"/></g>
<g transform="translate(174 19)"><circle cx="-5" cy="-5.500" r="2.800" fill="#111"/><circle cx="5" cy="-5.500" r="2.800" fill="#111"/><ellipse rx="7.500" ry="6.800" fill="#fff" stroke="#bbb" stroke-width=".5"/><ellipse cx="-3" cy="-1" rx="2" ry="2.600" fill="#111"/><ellipse cx="3" cy="-1" rx="2" ry="2.600" fill="#111"/><circle cx="-3.500" cy="5" r="3.800" fill="#e02418"/><rect x="-4.200" y="2.500" width="1.500" height="3.300" fill="#fff"/><rect x="-4.200" y="6.300" width="1.500" height="1.300" fill="#fff"/></g>
<g transform="translate(192.500 19)"><path d="M-7 8l2.500-7 3 2zM7 8l-2.500-7-3 2zM-8 0l5 1.500M8 0l-5 1.500" fill="#f4f4f4" stroke="#999" stroke-width=".7"/><circle cy="-2.500" r="6" fill="#e8f4e0" stroke="#58a838" stroke-width="1.200"/><circle cy="-2.500" r="4" fill="#3aa02c"/><path d="M-2-2.500l1.500 1.700 2.800-3.400" stroke="#fff" stroke-width="1.200" fill="none"/></g>
<g transform="translate(210 19) rotate(-35)"><path d="M-2.500-9q2.500-3 5 0v11h-5z" fill="#6c7684" stroke="#333" stroke-width=".6"/><path d="M-2.500-1l-3 5h3zM2.500-1l3 5h-3z" fill="#444"/><path d="M-1.500 2h3l-1.500 7z" fill="#4aa0f0"/><circle cy="-5" r="1.300" fill="#cfe0f0"/></g>
<g transform="translate(229 19)"><rect x="-8" y="-6.800" width="16" height="14" fill="#d41830"/><path d="M2-5.500q-7 2.500-6 8.500q1 3.500 5 2.500q5-2 4-7q-1-3.500-4.500-2.500q-4.500 2-3 6" stroke="#fff" stroke-width="1.500" fill="none"/></g>
</svg>
</div>
</div></body></html>
